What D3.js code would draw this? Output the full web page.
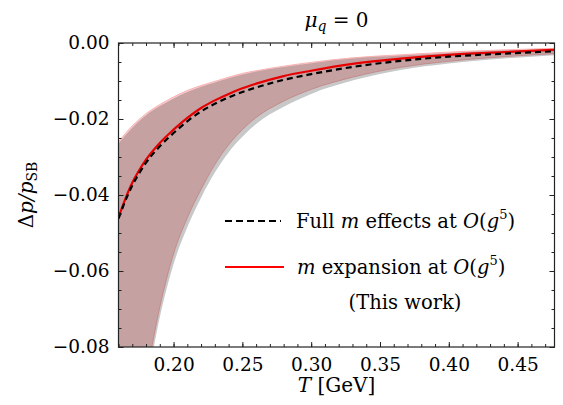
<!DOCTYPE html>
<html>
<head>
<meta charset="utf-8">
<script src="https://cdn.jsdelivr.net/npm/d3@7"></script>
<style>
  body { margin: 0; background: #fff; }
  svg { font-family: "DejaVu Serif", serif; }
</style>
</head>
<body>
<div id="chart-area"></div>
<script>
// Data
var temps      = [0.16, 0.165, 0.17, 0.175, 0.18, 0.19, 0.20, 0.21, 0.22, 0.23, 0.24, 0.25, 0.26, 0.28, 0.30, 0.33, 0.365, 0.40, 0.44, 0.477];
var mExpansion = [-0.0459, -0.0410, -0.0368, -0.0335, -0.0307, -0.0263, -0.0228, -0.0197, -0.0171, -0.0151, -0.0134, -0.0119, -0.0107, -0.0087, -0.0073, -0.0055, -0.0041, -0.0031, -0.0024, -0.0018];
var fullMass   = [-0.0462, -0.0415, -0.0375, -0.0343, -0.0315, -0.0272, -0.0237, -0.0206, -0.0180, -0.0160, -0.0143, -0.0129, -0.0117, -0.0097, -0.0082, -0.0063, -0.0047, -0.0036, -0.0028, -0.0022];
var redUpper   = [-0.0260, -0.0238, -0.0218, -0.0201, -0.0186, -0.0162, -0.0142, -0.0125, -0.0112, -0.0101, -0.0090, -0.0080, -0.0073, -0.0061, -0.0051, -0.0039, -0.0031, -0.0024, -0.0018, -0.0014];
var redLower   = [-0.140, -0.122, -0.107, -0.097, -0.088, -0.0695, -0.0555, -0.0460, -0.0385, -0.0320, -0.0268, -0.0228, -0.0196, -0.0153, -0.0122, -0.0090, -0.0064, -0.0048, -0.0036, -0.0028];
var grayUpper  = [-0.0265, -0.0243, -0.0223, -0.0205, -0.0190, -0.0166, -0.0146, -0.0129, -0.0115, -0.0104, -0.0093, -0.0083, -0.0075, -0.0063, -0.0053, -0.0041, -0.0033, -0.0026, -0.0020, -0.0016];
var grayLower  = [-0.146, -0.127, -0.111, -0.100, -0.091, -0.0722, -0.0582, -0.0485, -0.0407, -0.0341, -0.0288, -0.0247, -0.0213, -0.0168, -0.0134, -0.0099, -0.0071, -0.0054, -0.0041, -0.0032];

var xTicks = [0.20, 0.25, 0.30, 0.35, 0.40, 0.45];
var yTicks = [0.00, -0.02, -0.04, -0.06, -0.08];

var margin = { left: 118.5, right: 8.5, top: 43, bottom: 58 };
var width = 563 - margin.left - margin.right,
	height = 405 - margin.top - margin.bottom;

var svg = d3.select("#chart-area")
	.append("svg")
	.attr("width", 563)
	.attr("height", 405);

var g = svg.append("g")
	.attr("transform", "translate(" + margin.left + ", " + margin.top + ")");

// Scales
var x = d3.scaleLinear()
	.domain([0.16, 0.4768])
	.range([0, width]);

var y = d3.scaleLinear()
	.domain([-0.08, 0])
	.range([height, 0]);

var rows = temps.map(function (t, i) {
	return {
		t: t, mexp: mExpansion[i], full: fullMass[i],
		ru: redUpper[i], rl: redLower[i], gu: grayUpper[i], gl: grayLower[i]
	};
});

svg.append("defs").append("clipPath")
	.attr("id", "clip")
	.append("rect")
	.attr("width", width)
	.attr("height", height);

var plots = g.append("g").attr("clip-path", "url(#clip)");

// Bands
var grayArea = d3.area()
	.curve(d3.curveMonotoneX)
	.x(function (d) { return x(d.t) })
	.y0(function (d) { return y(d.gl) })
	.y1(function (d) { return y(d.gu) });

var redArea = d3.area()
	.curve(d3.curveMonotoneX)
	.x(function (d) { return x(d.t) })
	.y0(function (d) { return y(d.rl) })
	.y1(function (d) { return y(d.ru) });

plots.append("path")
	.attr("d", grayArea(rows))
	.attr("fill", "#c8c8c8");

plots.append("path")
	.attr("d", redArea(rows))
	.attr("fill", "#fdcdcf")
	.attr("stroke", "#f7a4a4")
	.attr("stroke-width", 0.8)
	.style("mix-blend-mode", "multiply");

// Curves
var fullLine = d3.line()
	.curve(d3.curveMonotoneX)
	.x(function (d) { return x(d.t) })
	.y(function (d) { return y(d.full) });

var expLine = d3.line()
	.curve(d3.curveMonotoneX)
	.x(function (d) { return x(d.t) })
	.y(function (d) { return y(d.mexp) });

plots.append("path")
	.attr("d", expLine(rows))
	.attr("fill", "none")
	.attr("stroke", "#e60000")
	.attr("stroke-width", 2.2);

plots.append("path")
	.attr("d", fullLine(rows))
	.attr("fill", "none")
	.attr("stroke", "#000")
	.attr("stroke-width", 2.2)
	.attr("stroke-dasharray", "6,4");

// Axes: ticks point inward on all four sides
var xMinor = d3.range(0.16, 0.4769, 0.01);
var yMinor = d3.range(-0.08, 0.0001, 0.005);

function styleAxis(sel) {
	sel.select(".domain").remove();
	sel.selectAll("line").attr("stroke", "#222").attr("stroke-width", 1);
	sel.selectAll("text").attr("font-size", "18.5px").attr("fill", "#000")
		.attr("font-family", "DejaVu Serif");
}

g.append("g").attr("transform", "translate(0," + height + ")")
	.call(d3.axisBottom(x).tickValues(xMinor).tickSize(-3).tickFormat(""))
	.call(styleAxis);
g.append("g").attr("transform", "translate(0," + height + ")")
	.call(d3.axisBottom(x).tickValues(xTicks).tickSize(-5).tickPadding(11).tickFormat(d3.format(".2f")))
	.call(styleAxis);
g.append("g")
	.call(d3.axisTop(x).tickValues(xMinor).tickSize(-3).tickFormat(""))
	.call(styleAxis);
g.append("g")
	.call(d3.axisTop(x).tickValues(xTicks).tickSize(-5).tickFormat(""))
	.call(styleAxis);

g.append("g")
	.call(d3.axisLeft(y).tickValues(yMinor).tickSize(-3).tickFormat(""))
	.call(styleAxis);
g.append("g")
	.call(d3.axisLeft(y).tickValues(yTicks).tickSize(-5).tickPadding(9).tickFormat(d3.format(".2f")))
	.call(styleAxis);
g.append("g").attr("transform", "translate(" + width + ",0)")
	.call(d3.axisRight(y).tickValues(yMinor).tickSize(-3).tickFormat(""))
	.call(styleAxis);
g.append("g").attr("transform", "translate(" + width + ",0)")
	.call(d3.axisRight(y).tickValues(yTicks).tickSize(-5).tickFormat(""))
	.call(styleAxis);

// Frame
g.append("rect")
	.attr("width", width)
	.attr("height", height)
	.attr("fill", "none")
	.attr("stroke", "#222")
	.attr("stroke-width", 1.2);

// Title
var title = g.append("text")
	.attr("x", width / 2)
	.attr("y", -16)
	.attr("text-anchor", "middle")
	.attr("font-size", "20px");
title.append("tspan").attr("font-style", "italic").text("μ");
title.append("tspan").attr("font-style", "italic").attr("font-size", "14px").attr("dy", 4).text("q");
title.append("tspan").attr("dy", -4).text(" = 0");

// X Label
var xLabel = g.append("text")
	.attr("x", width / 2)
	.attr("y", height + 45)
	.attr("text-anchor", "middle")
	.attr("font-size", "20px");
xLabel.append("tspan").attr("font-style", "italic").text("T");
xLabel.append("tspan").text(" [GeV]");

// Y Label
var yLabel = g.append("text")
	.attr("transform", "translate(" + (33 - margin.left) + "," + (height / 2) + ") rotate(-90)")
	.attr("text-anchor", "middle")
	.attr("font-size", "20px");
yLabel.append("tspan").text("Δ");
yLabel.append("tspan").attr("font-style", "italic").text("p/p");
yLabel.append("tspan").attr("font-size", "14px").attr("dy", 4).text("SB");

// Legend
var legend = g.append("g").attr("class", "legend");

legend.append("line")
	.attr("x1", 225 - margin.left).attr("x2", 281 - margin.left)
	.attr("y1", 221 - margin.top).attr("y2", 221 - margin.top)
	.attr("stroke", "#000").attr("stroke-width", 2.2)
	.attr("stroke-dasharray", "7,4");

legend.append("line")
	.attr("x1", 225 - margin.left).attr("x2", 284 - margin.left)
	.attr("y1", 267 - margin.top).attr("y2", 267 - margin.top)
	.attr("stroke", "#ff0000").attr("stroke-width", 2.2);

function orderLabel(sel) {
	sel.append("tspan").attr("font-style", "italic").text("O");
	sel.append("tspan").text("(");
	sel.append("tspan").attr("font-style", "italic").text("g");
	sel.append("tspan").attr("font-size", "13px").attr("dy", -9).text("5");
	sel.append("tspan").attr("dy", 9).text(")");
}

var l1 = legend.append("text")
	.attr("x", 296 - margin.left)
	.attr("y", 228 - margin.top)
	.attr("font-size", "19.5px");
l1.append("tspan").text("Full ");
l1.append("tspan").attr("font-style", "italic").text("m");
l1.append("tspan").text(" effects at ");
orderLabel(l1);

var l2 = legend.append("text")
	.attr("x", 297 - margin.left)
	.attr("y", 274 - margin.top)
	.attr("font-size", "19.5px");
l2.append("tspan").attr("font-style", "italic").text("m");
l2.append("tspan").text(" expansion at ");
orderLabel(l2);

legend.append("text")
	.attr("x", 405 - margin.left)
	.attr("y", 309 - margin.top)
	.attr("text-anchor", "middle")
	.attr("font-size", "19.5px")
	.text("(This work)");
</script>
</body>
</html>
